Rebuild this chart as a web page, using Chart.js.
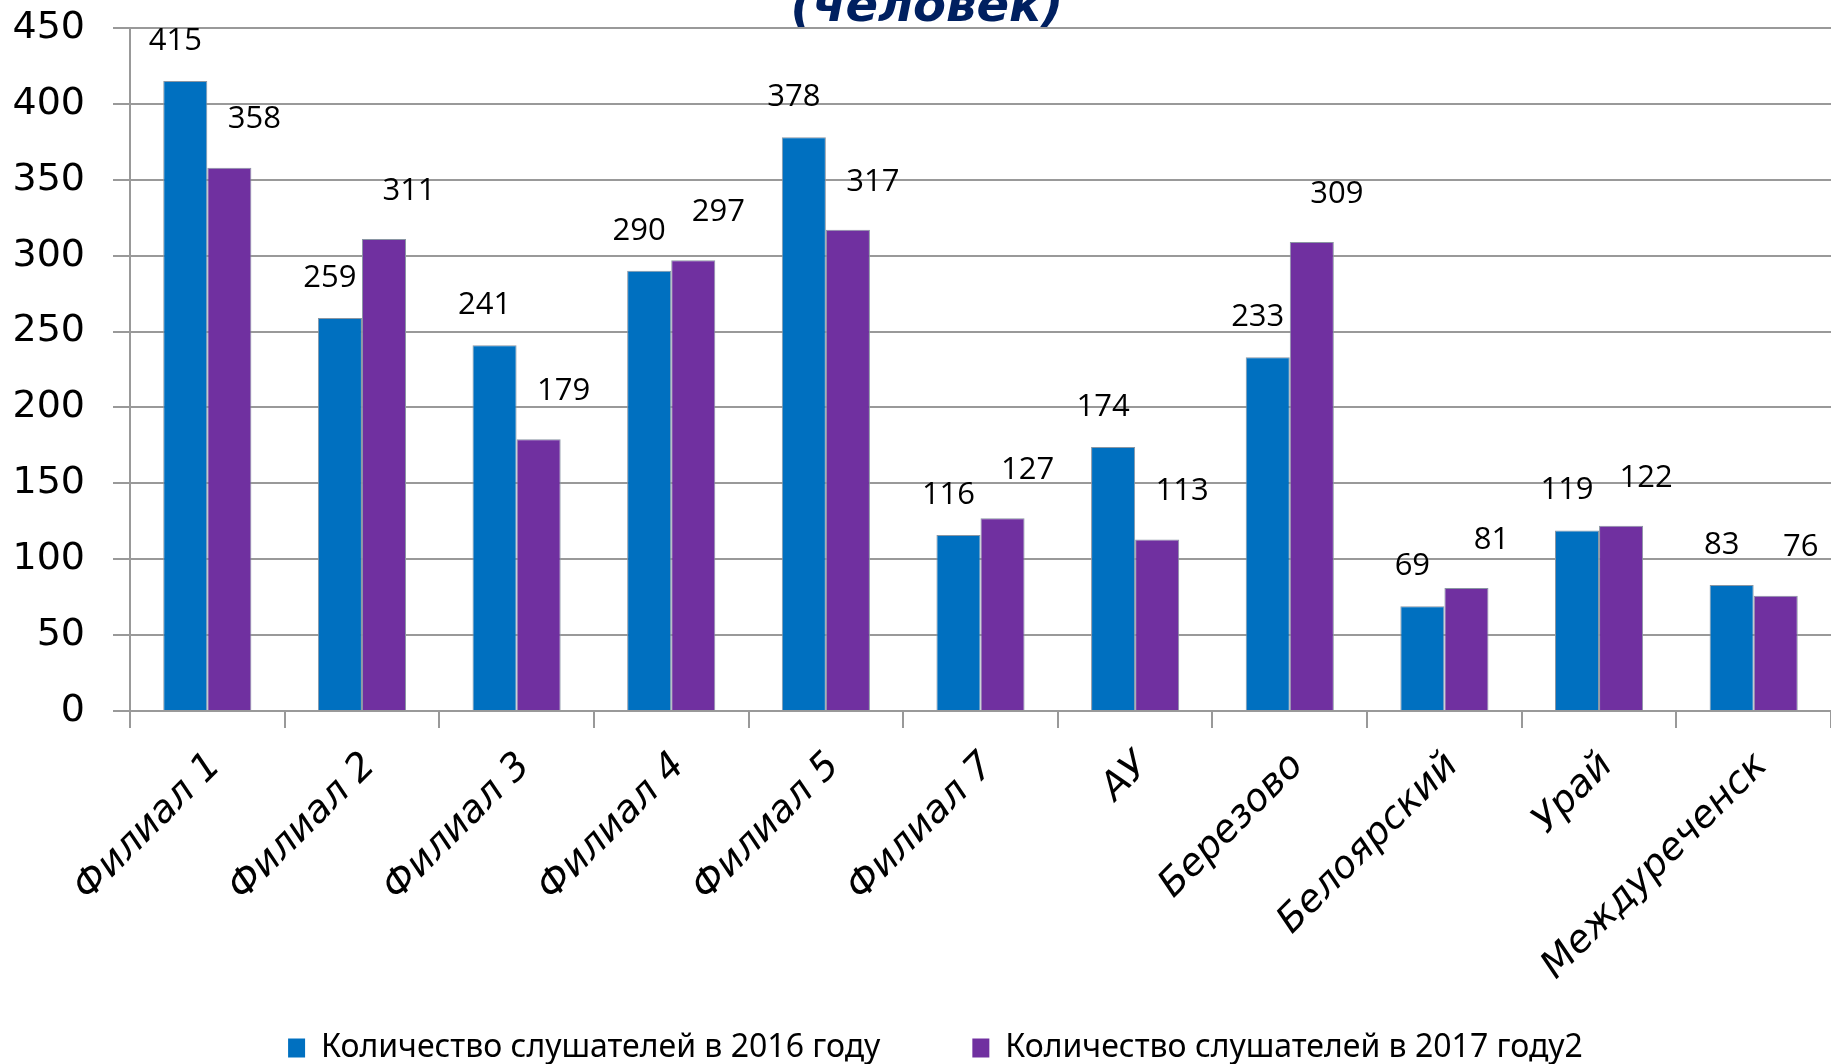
<!DOCTYPE html>
<html>
<head>
<meta charset="utf-8">
<script src="https://cdn.jsdelivr.net/npm/chart.js@4/dist/chart.umd.min.js"></script>
<style>
  html, body { margin: 0; padding: 0; background: #fff; }
  #wrap { width: 1831px; height: 1064px; position: relative; }
</style>
</head>
<body>
<div id="wrap"><canvas id="chart"></canvas></div>
<script>
// chart data
const categories = ['Филиал 1', 'Филиал 2', 'Филиал 3', 'Филиал 4', 'Филиал 5', 'Филиал 7', 'АУ', 'Березово', 'Белоярский', 'Урай', 'Междуреченск']
const listeners2016 = [415, 259, 241, 290, 378, 116, 174, 233, 69, 119, 83]
const listeners2017 = [358, 311, 179, 297, 317, 127, 113, 309, 81, 122, 76]
const seriesNames = ['Количество слушателей в 2016 году', 'Количество слушателей в 2017 году2']
const titleText = '(человек)'

// value labels above the bars, shifted per series like in the original
const valueLabels = {
	id: 'valueLabels',
	afterDatasetsDraw(chart) {
		const ctx = chart.ctx
		ctx.save()
		ctx.font = '31px "Open Sans"'
		ctx.fillStyle = '#000'
		ctx.textAlign = 'center'
		ctx.textBaseline = 'middle'
		chart.data.datasets.forEach((ds, di) => {
			const meta = chart.getDatasetMeta(di)
			const shift = ds.labelShift
			meta.data.forEach((bar, i) => {
				ctx.fillText(ds.data[i], bar.x + shift[0], bar.y + shift[1])
			})
		})
		ctx.restore()
	},
}

// title, partly cut off at the top edge
const topTitle = {
	id: 'topTitle',
	afterDraw(chart) {
		const ctx = chart.ctx
		ctx.save()
		ctx.font = 'italic bold 48px "DejaVu Sans"'
		ctx.fillStyle = '#002060'
		ctx.textAlign = 'center'
		ctx.textBaseline = 'alphabetic'
		ctx.fillText(titleText, 927, 21)
		ctx.restore()
	},
}

// the legend in the original sits a bit right of the centre
const legendShift = {
	id: 'legendShift',
	afterLayout(chart) {
		chart.legend.left += 40
	},
}

const ctx = document.getElementById('chart').getContext('2d')
new Chart(ctx, {
	type: 'bar',
	data: {
		labels: categories,
		datasets: [
			{
				label: seriesNames[0],
				data: listeners2016,
				backgroundColor: '#0070C0',
				labelShift: [-10, -40],
			},
			{
				label: seriesNames[1],
				data: listeners2017,
				backgroundColor: '#7030A0',
				labelShift: [25, -48],
			},
		],
	},
	options: {
		responsive: true,
		maintainAspectRatio: false,
		animation: false,
		layout: { padding: { top: 0, right: 0, left: 0, bottom: -10 } },
		datasets: {
			bar: {
				categoryPercentage: 0.57,
				barPercentage: 1.0,
				borderColor: '#8a96a3',
				borderWidth: 1,
			},
		},
		plugins: {
			title: { display: false },
			tooltip: { enabled: false },
			legend: {
				position: 'bottom',
				labels: {
					font: { family: 'Noto Sans', size: 32 },
					color: '#000',
					boxWidth: 17,
					boxHeight: 19,
					padding: 12,
					// wide gap between the two entries, as in the original
					generateLabels: (chart) => {
						const items = Chart.defaults.plugins.legend.labels.generateLabels(chart)
						items.forEach((item, i) => {
							item.lineWidth = 0
							if (i < items.length - 1) item.text += '\u2003\u2003\u2002'
						})
						return items
					},
				},
			},
		},
		scales: {
			x: {
				afterFit: (scale) => { scale.height = 309 },
				grid: {
					offset: true,
					drawOnChartArea: false,
					drawTicks: true,
					tickLength: 17,
					color: '#999',
					lineWidth: 2,
				},
				border: { color: '#999', width: 2 },
				ticks: {
					autoSkip: false,
					maxRotation: 45,
					minRotation: 45,
					padding: 16,
					labelOffset: 8,
					font: { family: 'DejaVu Sans', size: 38, style: 'italic' },
					color: '#000',
				},
			},
			y: {
				min: 0,
				max: 450,
				afterFit: (scale) => {
					scale.width = 130
					scale.paddingTop = 28
				},
				grid: {
					color: '#999',
					lineWidth: 2,
					tickLength: 17,
				},
				border: { color: '#999', width: 2 },
				ticks: {
					stepSize: 50,
					padding: 28,
					font: { family: 'DejaVu Sans', size: 38 },
					color: '#000',
				},
			},
		},
	},
	plugins: [valueLabels, topTitle, legendShift],
})
</script>
</body>
</html>
